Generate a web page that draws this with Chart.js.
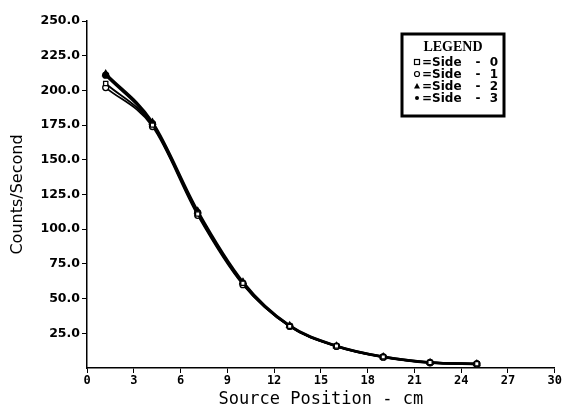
<!DOCTYPE html>
<html><head><meta charset="utf-8">
<script src="https://cdn.jsdelivr.net/npm/chart.js@4/dist/chart.umd.min.js"></script>
<style>html,body{margin:0;padding:0;background:#fff}#wrap{width:563px;height:412px}</style>
</head><body><div id="wrap"><canvas id="c" width="563" height="412"></canvas></div>
<script>
const positions = [1.2, 4.2, 7.1, 10.0, 13.0, 16.0, 19.0, 22.0, 25.0];
const side0 = [205, 175, 111, 61, 30, 15.8, 8.0, 4.0, 3.0];
const side1 = [202, 174, 110, 60, 30, 15.6, 7.8, 3.8, 2.9];
const side2 = [212, 177, 113, 62, 30.5, 15.9, 8.1, 4.0, 3.0];
const side3 = [211, 176, 112, 61, 30.2, 15.7, 8.0, 3.9, 3.0];
const seriesNames = ['Side', 'Side', 'Side', 'Side'];
const seriesNums = ['0', '1', '2', '3'];
const xTicks = [0, 3, 6, 9, 12, 15, 18, 21, 24, 27, 30];
const yTicks = [25, 50, 75, 100, 125, 150, 175, 200, 225, 250];

const styles = [
  {pointStyle: 'rect', bg: '#fff', r: 3, w: 1.8},
  {pointStyle: 'circle', bg: '#fff', r: 3, w: 1.8},
  {pointStyle: 'triangle', bg: '#000', r: 3.5, w: 2.6},
  {pointStyle: 'circle', bg: '#000', r: 3, w: 2.6}
];
const allSeries = [side0, side1, side2, side3];
const datasets = allSeries.map((s, i) => ({
  label: seriesNames[i] + ' - ' + seriesNums[i],
  data: positions.map((x, j) => ({x: x, y: s[j]})),
  borderColor: '#000',
  backgroundColor: styles[i].bg,
  pointStyle: styles[i].pointStyle,
  pointRadius: styles[i].r,
  pointBorderColor: '#000',
  pointBorderWidth: 1.3,
  borderWidth: styles[i].w,
  tension: 0.4,
  cubicInterpolationMode: 'monotone'
}));

const legendBox = {
  id: 'legendBox',
  afterDraw(chart) {
    const ctx = chart.ctx;
    const x0 = 402, y0 = 34, w = 102, h = 82;
    ctx.save();
    ctx.fillStyle = '#fff';
    ctx.fillRect(x0, y0, w, h);
    ctx.lineWidth = 3;
    ctx.strokeStyle = '#000';
    ctx.strokeRect(x0, y0, w, h);
    ctx.fillStyle = '#000';
    ctx.textBaseline = 'middle';
    ctx.textAlign = 'center';
    ctx.font = 'bold 14px "Liberation Serif", serif';
    ctx.fillText('LEGEND', 453, 47);
    ctx.font = 'bold 12px "DejaVu Sans", sans-serif';
    const ys = [62, 74, 86, 98];
    seriesNames.forEach((n, i) => {
      const y = ys[i];
      const mx = 417;
      ctx.lineWidth = 1.2;
      if (i === 0) { ctx.strokeRect(mx - 2.5, y - 2.5, 5, 5); }
      else if (i === 1) { ctx.beginPath(); ctx.arc(mx, y, 2.5, 0, Math.PI * 2); ctx.stroke(); }
      else if (i === 2) { ctx.beginPath(); ctx.moveTo(mx, y - 3); ctx.lineTo(mx + 3, y + 2.5); ctx.lineTo(mx - 3, y + 2.5); ctx.closePath(); ctx.fill(); }
      else { ctx.beginPath(); ctx.arc(mx, y, 2, 0, Math.PI * 2); ctx.fill(); }
      ctx.textAlign = 'left';
      ctx.fillText('=' + n, 422, y + 1);
      ctx.textAlign = 'center';
      ctx.fillText('-', 478, y + 1);
      ctx.fillText(seriesNums[i], 494, y + 1);
    });
    ctx.restore();
  }
};

new Chart(document.getElementById('c'), {
  type: 'line',
  data: {datasets: datasets},
  options: {
    responsive: false,
    animation: false,
    layout: {padding: {top: 21, right: 4, left: 0, bottom: 0}},
    plugins: {legend: {display: false}, tooltip: {enabled: false}},
    scales: {
      x: {
        type: 'linear', min: 0, max: 30,
        afterBuildTicks(a) { a.ticks = xTicks.map(v => ({value: v})); },
        afterFit(a) { a.height = 44; },
        grid: {display: true, drawOnChartArea: false, drawTicks: true, tickLength: 5, color: '#000', lineWidth: 1},
        border: {display: true, color: '#000', width: 1.5},
        ticks: {color: '#000', font: {family: '"DejaVu Sans Mono", monospace', size: 12, weight: 'bold'}, padding: 1, maxRotation: 0},
        title: {display: true, text: 'Source Position - cm', color: '#000', font: {family: '"DejaVu Sans Mono", monospace', size: 17}, padding: {top: 0, bottom: 2}}
      },
      y: {
        min: 0, max: 250,
        afterBuildTicks(a) { a.ticks = yTicks.map(v => ({value: v})); },
        afterFit(a) { a.width = 87; },
        grid: {display: true, drawOnChartArea: false, drawTicks: true, tickLength: 5, color: '#000', lineWidth: 1},
        border: {display: true, color: '#000', width: 1.5},
        ticks: {color: '#000', font: {family: '"DejaVu Sans", sans-serif', size: 12.5, weight: 'bold'}, padding: 2,
          callback: v => v.toFixed(1)},
        title: {display: true, text: 'Counts/Second', color: '#000', font: {family: '"DejaVu Sans", sans-serif', size: 16}, padding: {top: 8, bottom: 0}}
      }
    }
  },
  plugins: [legendBox]
});
</script></body></html>
